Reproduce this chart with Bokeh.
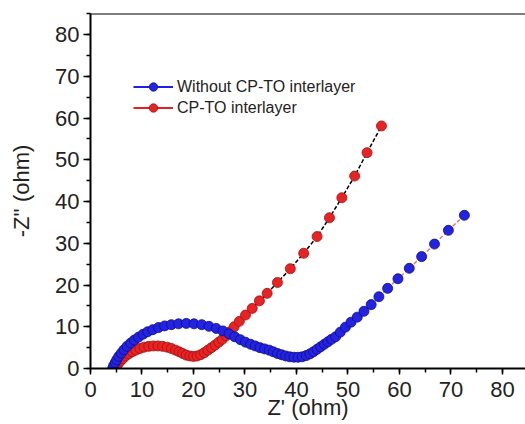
from bokeh.plotting import figure
from bokeh.models import Range1d, SingleIntervalTicker, Legend, LegendItem, Span, ColumnDataSource
from bokeh.embed import file_html
from bokeh.resources import INLINE

# Nyquist data
without_x = [4.3, 4.5, 4.8, 5.1, 5.5, 6.0, 6.5, 7.1, 7.8, 8.5, 9.3, 10.2, 11.1, 12.1, 13.2,
             14.4, 15.7, 17.1, 18.6, 20.1, 21.6, 23.0, 24.4, 25.7, 26.9, 28.0, 29.1, 30.1,
             31.1, 32.0, 32.9, 33.8, 34.7, 35.5, 36.3, 37.1, 37.9, 38.7, 39.5, 40.3, 41.1,
             41.9, 42.6, 43.3, 44.0, 44.7, 45.4, 46.1, 46.8, 47.6, 48.5, 49.5, 50.6, 51.8,
             53.1, 54.5, 56.0, 57.7, 59.7, 61.9, 64.3, 66.8, 69.5, 72.6]
without_y = [0.0, 0.7, 1.4, 2.1, 2.9, 3.7, 4.5, 5.3, 6.1, 6.8, 7.5, 8.2, 8.8, 9.3, 9.8,
             10.2, 10.5, 10.7, 10.8, 10.7, 10.5, 10.1, 9.6, 9.0, 8.3, 7.6, 6.9, 6.3,
             5.8, 5.4, 5.0, 4.7, 4.4, 4.0, 3.6, 3.3, 3.0, 2.8, 2.7, 2.7, 2.8,
             3.1, 3.5, 4.0, 4.6, 5.2, 5.8, 6.4, 7.0, 7.6, 8.7, 9.9, 11.1, 12.3,
             13.7, 15.3, 17.2, 19.2, 21.5, 24.0, 26.8, 29.8, 33.1, 36.7]

cpto_x = [4.9, 5.1, 5.4, 5.8, 6.3, 6.8, 7.4, 8.1, 8.8, 9.6, 10.4, 11.3, 12.2, 13.1, 14.0,
          14.9, 15.7, 16.5, 17.2, 17.9, 18.6, 19.3, 20.0, 20.7, 21.4, 22.1, 22.8, 23.5,
          24.2, 24.9, 25.6, 26.3, 27.1, 27.9, 28.9, 30.1, 31.4, 32.8, 34.3, 36.3, 38.8,
          41.4, 44.0, 46.4, 48.8, 51.3, 53.7, 56.5]
cpto_y = [0.0, 0.6, 1.2, 1.8, 2.4, 3.0, 3.5, 4.0, 4.4, 4.8, 5.1, 5.3, 5.4, 5.4, 5.3,
          5.1, 4.8, 4.4, 4.0, 3.6, 3.2, 3.0, 2.9, 3.0, 3.3, 3.8, 4.4, 5.0,
          5.6, 6.3, 7.0, 7.8, 8.8, 10.0, 11.3, 12.8, 14.4, 16.2, 18.0, 20.6, 23.9,
          27.6, 31.6, 36.1, 40.9, 46.1, 51.7, 58.1]

series_labels = ["Without CP-TO interlayer", "CP-TO interlayer"]
x_label = "Z' (ohm)"
y_label = "-Z'' (ohm)"

X_MAX = 84.47
Y_MAX = 85.03

p = figure(width=525, height=424, output_backend="svg", toolbar_location=None,
           x_range=Range1d(0, X_MAX), y_range=Range1d(0, Y_MAX),
           min_border_left=90, min_border_right=0, min_border_top=13, min_border_bottom=56)
p.xgrid.visible = False
p.ygrid.visible = False
p.outline_line_color = None
p.background_fill_color = "white"
p.border_fill_color = "white"

for ax in (p.xaxis[0], p.yaxis[0]):
    ax.ticker = SingleIntervalTicker(interval=10, num_minor_ticks=2)
    ax.major_tick_in = 0
    ax.major_tick_out = 7
    ax.minor_tick_in = 0
    ax.minor_tick_out = 4
    ax.axis_line_width = 2
    ax.major_tick_line_width = 1.5
    ax.minor_tick_line_width = 1.5
    ax.major_label_text_font = "Liberation Sans"
    ax.major_label_text_font_size = "22px"
    ax.major_label_text_color = "#222222"
    ax.axis_label_text_font = "Liberation Sans"
    ax.axis_label_text_font_style = "normal"
    ax.axis_label_text_color = "#222222"

p.xaxis[0].axis_label = x_label
p.yaxis[0].axis_label = y_label
p.xaxis[0].axis_label_text_font_size = "22px"
p.yaxis[0].axis_label_text_font_size = "22px"
p.xaxis[0].major_tick_out = 6
p.xaxis[0].major_label_standoff = 7
p.xaxis[0].axis_label_standoff = -5
p.yaxis[0].major_label_standoff = 4
p.yaxis[0].axis_label_standoff = 18

p.add_layout(Span(location=Y_MAX, dimension="width", line_color="black", line_width=2))

src_w = ColumnDataSource(dict(x=without_x, y=without_y))
src_c = ColumnDataSource(dict(x=cpto_x, y=cpto_y))

# connecting dashed lines
p.line("x", "y", source=src_c, line_color="black", line_width=1.5, line_dash="4 2")
p.line("x", "y", source=src_w, line_color="#e07a7a", line_width=1.5, line_dash="4 2")

rs = p.scatter("x", "y", source=src_c, size=10, marker="circle",
               fill_color="#e82323", line_color="#a31010", line_width=0.8)
bs = p.scatter("x", "y", source=src_w, size=10, marker="circle",
               fill_color="#2323e0", line_color="#0c0c8c", line_width=0.8)

# legend-only line glyphs (a single NaN point draws nothing on the plot)
nan = float("nan")
bl = p.line(x=[nan], y=[nan], line_color="#1f1fe6", line_width=2)
rl = p.line(x=[nan], y=[nan], line_color="#e62020", line_width=2)

legend = Legend(items=[LegendItem(label=series_labels[0], renderers=[bl, bs]),
                       LegendItem(label=series_labels[1], renderers=[rl, rs])],
                location=(43, 250), glyph_width=40, glyph_height=21, label_height=21,
                spacing=0, padding=0, margin=0, border_line_color=None,
                background_fill_alpha=0, label_text_font="Liberation Sans",
                label_text_font_size="16px", label_standoff=4, label_text_color="#222222")
p.add_layout(legend)

open("out.html", "w").write(file_html(p, INLINE))
